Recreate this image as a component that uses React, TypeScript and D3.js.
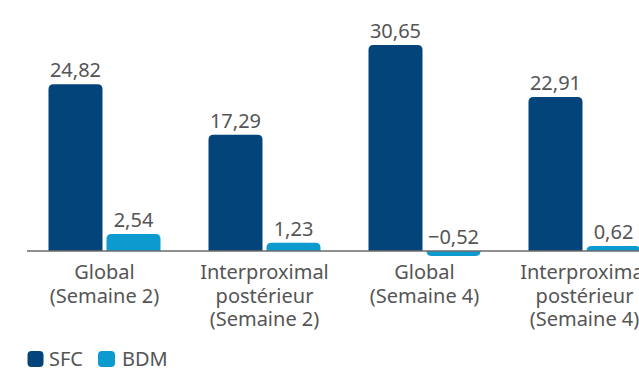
import React from "react";
import * as d3 from "d3";

const categories = [
  "Global (Semaine 2)",
  "Interproximal postérieur (Semaine 2)",
  "Global (Semaine 4)",
  "Interproximal postérieur (Semaine 4)",
];
const categoryLines = [
  ["Global", "(Semaine 2)"],
  ["Interproximal", "postérieur", "(Semaine 2)"],
  ["Global", "(Semaine 4)"],
  ["Interproximal", "postérieur", "(Semaine 4)"],
];
const seriesNames = ["SFC", "BDM"];
const sfcValues = [24.82, 17.29, 30.65, 22.91];
const bdmValues = [2.54, 1.23, -0.52, 0.62];
const seriesColors = ["#03457a", "#0c9acf"];

const W = 639;
const H = 373;
const baseY = 251;
const FONT = "'Noto Sans', 'Open Sans', sans-serif";
const TEXT = "#555555";

function fmt(v: number) {
  const s = Math.abs(v).toFixed(2).replace(".", ",");
  return v < 0 ? "\u2212" + s : s;
}

function barPath(x: number, w: number, y0: number, y1: number, r: number) {
  // y0: baseline, y1: end (rounded end)
  if (y1 <= y0) {
    // upward
    const top = y1;
    return `M${x},${y0} L${x},${top + r} Q${x},${top} ${x + r},${top} L${x + w - r},${top} Q${x + w},${top} ${x + w},${top + r} L${x + w},${y0} Z`;
  } else {
    const bot = y1;
    return `M${x},${y0} L${x},${bot - r} Q${x},${bot} ${x + r},${bot} L${x + w - r},${bot} Q${x + w},${bot} ${x + w},${bot - r} L${x + w},${y0} Z`;
  }
}

export default function App() {
  const x = d3
    .scaleBand<string>()
    .domain(categories)
    .range([24.5, 664.5])
    .paddingInner(0.3)
    .paddingOuter(0.15);
  const xs = d3
    .scaleBand<string>()
    .domain(seriesNames)
    .range([0, x.bandwidth()])
    .paddingInner(0.069);
  const y = d3.scaleLinear().domain([0, 31]).range([baseY, baseY - 6.72 * 31]);

  const series = [sfcValues, bdmValues];
  const minH = 5;

  return (
    <svg
      width={W}
      height={H}
      style={{ position: "absolute", left: 0, top: 0, display: "block" }}
      fontFamily={FONT}
    >
      <rect x={0} y={0} width={W} height={H} fill="#ffffff" />
      {categories.map((c, i) => (
        <g key={c}>
          {seriesNames.map((s, k) => {
            const v = series[k][i];
            const bx = (x(c) as number) + (xs(s) as number);
            const bw = xs.bandwidth();
            let yEnd = y(v);
            if (Math.abs(yEnd - baseY) < minH) yEnd = v >= 0 ? baseY - minH : baseY + minH;
            const labelY = Math.min(yEnd, baseY) - 7;
            return (
              <g key={s}>
                <path d={barPath(bx, bw, baseY, yEnd, 5)} fill={seriesColors[k]} />
                <text
                  x={bx + bw / 2}
                  y={labelY}
                  textAnchor="middle"
                  fontSize={20}
                  fill={TEXT}
                >
                  {fmt(v)}
                </text>
              </g>
            );
          })}
          <text
            x={(x(c) as number) + x.bandwidth() / 2}
            y={279}
            textAnchor="middle"
            fontSize={20}
            fill={TEXT}
          >
            {categoryLines[i].map((l, j) => (
              <tspan key={j} x={(x(c) as number) + x.bandwidth() / 2} dy={j === 0 ? 0 : 23.5}>
                {l}
              </tspan>
            ))}
          </text>
        </g>
      ))}
      <line x1={27} x2={W} y1={baseY} y2={baseY} stroke="#6b6b6b" strokeWidth={1.5} />
      <g>
        <rect x={27.5} y={351} width={16} height={16} rx={4} fill={seriesColors[0]} />
        <text x={49} y={366} fontSize={20} fill={TEXT}>
          {seriesNames[0]}
        </text>
        <rect x={98} y={351} width={17} height={16} rx={4} fill={seriesColors[1]} />
        <text x={122} y={366} fontSize={20} fill={TEXT}>
          {seriesNames[1]}
        </text>
      </g>
    </svg>
  );
}
